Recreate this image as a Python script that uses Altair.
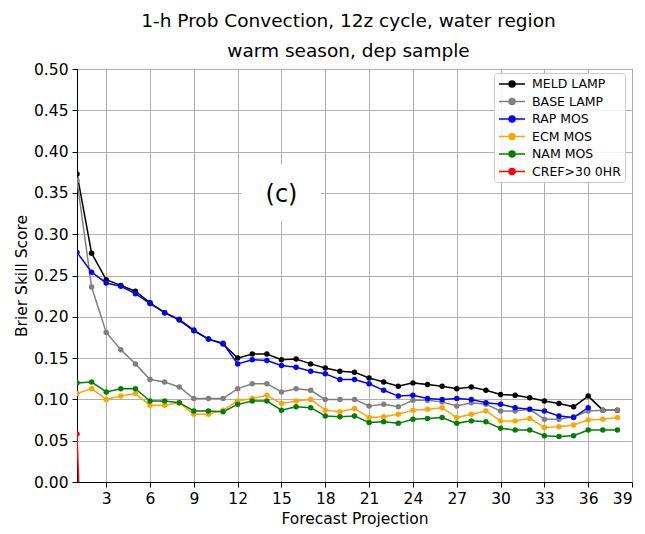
import altair as alt
import pandas as pd

hours = list(range(1, 39))
meld_lamp = [0.373, 0.277, 0.245, 0.238, 0.231, 0.217, 0.205, 0.196, 0.183, 0.173,
             0.167, 0.150, 0.155, 0.155, 0.148, 0.149, 0.143, 0.138, 0.134, 0.133,
             0.126, 0.121, 0.116, 0.120, 0.118, 0.116, 0.113, 0.115, 0.111, 0.106,
             0.105, 0.102, 0.098, 0.095, 0.091, 0.104, 0.087, 0.087]
base_lamp = [0.365, 0.236, 0.181, 0.160, 0.143, 0.124, 0.121, 0.115, 0.101, 0.101,
             0.101, 0.113, 0.119, 0.119, 0.109, 0.113, 0.111, 0.100, 0.100, 0.100,
             0.092, 0.094, 0.091, 0.099, 0.099, 0.097, 0.092, 0.096, 0.094, 0.086,
             0.086, 0.088, 0.076, 0.076, 0.079, 0.086, 0.087, 0.087]
rap_mos = [0.278, 0.254, 0.241, 0.237, 0.228, 0.216, 0.205, 0.197, 0.184, 0.173,
           0.168, 0.143, 0.148, 0.147, 0.141, 0.139, 0.134, 0.131, 0.124, 0.124,
           0.119, 0.111, 0.104, 0.105, 0.101, 0.100, 0.101, 0.100, 0.096, 0.094,
           0.090, 0.088, 0.086, 0.080, 0.078, 0.090]
ecm_mos = [0.107, 0.113, 0.100, 0.104, 0.107, 0.093, 0.093, 0.096, 0.082, 0.082,
           0.087, 0.098, 0.101, 0.105, 0.095, 0.098, 0.100, 0.087, 0.085, 0.089,
           0.078, 0.079, 0.082, 0.087, 0.088, 0.090, 0.078, 0.082, 0.086, 0.074,
           0.074, 0.077, 0.066, 0.067, 0.069, 0.075, 0.076, 0.078]
nam_mos = [0.120, 0.121, 0.109, 0.113, 0.113, 0.098, 0.098, 0.096, 0.086, 0.086,
           0.085, 0.094, 0.098, 0.098, 0.087, 0.091, 0.090, 0.080, 0.079, 0.080,
           0.072, 0.073, 0.071, 0.076, 0.077, 0.078, 0.071, 0.074, 0.073, 0.065,
           0.063, 0.063, 0.056, 0.055, 0.056, 0.063, 0.063, 0.063]
cref_hours = [1, 2]
cref_0hr = [0.058, -0.45]

series_names = ["MELD LAMP", "BASE LAMP", "RAP MOS", "ECM MOS", "NAM MOS", "CREF>30 0HR"]
series_colors = ["#000000", "#808080", "#0000ff", "#ffa500", "#008000", "#ff0000"]

x_ticks = list(range(3, 40, 3))
y_ticks = [round(i * 0.05, 2) for i in range(11)]

rows = []
for name, xs, vals in [
    ("MELD LAMP", hours, meld_lamp),
    ("BASE LAMP", hours, base_lamp),
    ("RAP MOS", hours[:len(rap_mos)], rap_mos),
    ("ECM MOS", hours, ecm_mos),
    ("NAM MOS", hours, nam_mos),
    ("CREF>30 0HR", cref_hours, cref_0hr),
]:
    for h, v in zip(xs, vals):
        rows.append({"hour": h, "bss": v, "series": name, "order": series_names.index(name)})
df = pd.DataFrame(rows)

label_df = pd.DataFrame({"hour": [15], "bss": [0.35], "text": ["(c)"]})

# line with a dot, in symbol units (nominal size 12px -> 26px wide line, 3px dot)
legend_symbol = ("M-2.17,0L2.17,0M0.5,0A0.5,0.5,0,1,1,-0.5,0"
                 "A0.5,0.5,0,1,1,0.5,0")

def make_legend():
    return alt.Legend(
        title=None, orient="none", legendX=417, legendY=4,
        symbolType=legend_symbol, symbolSize=144, symbolOffset=7,
        symbolStrokeWidth=1.5, labelFontSize=12.5,
        labelOffset=13, rowPadding=3.5, padding=4,
        fillColor="rgba(255,255,255,0.85)", strokeColor="#cccccc",
        cornerRadius=3,
    )

x_enc = alt.X("hour:Q", title="Forecast Projection",
              scale=alt.Scale(domain=[1, 39], nice=False, zero=False),
              axis=alt.Axis(values=x_ticks, format="d"))
y_enc = alt.Y("bss:Q", title="Brier Skill Score",
              scale=alt.Scale(domain=[0, 0.5], nice=False),
              axis=alt.Axis(values=y_ticks, format=".2f"))

lines = alt.Chart(df).mark_line(strokeWidth=1.5, clip=True).encode(
    x=x_enc, y=y_enc,
    stroke=alt.Stroke("series:N", sort=series_names,
                      scale=alt.Scale(domain=series_names, range=series_colors),
                      legend=make_legend()),
    order="hour:Q",
    detail="series:N",
)

points = alt.Chart(df).mark_point(filled=True, size=30, clip=True, opacity=1).encode(
    x=x_enc, y=y_enc,
    fill=alt.Fill("series:N", sort=series_names,
                  scale=alt.Scale(domain=series_names, range=series_colors),
                  legend=make_legend()),
)

box = alt.Chart(label_df).mark_point(
    shape="M-1,-0.72L1,-0.72L1,0.72L-1,0.72Z", size=6241,
    filled=True, fill="white", opacity=1, strokeWidth=0,
).encode(x="hour:Q", y="bss:Q")

text = alt.Chart(label_df).mark_text(
    fontSize=24, font="DejaVu Sans", baseline="middle", align="center", dy=2, color="black",
).encode(x="hour:Q", y="bss:Q", text="text:N")

chart = alt.layer(box, text, lines, points).properties(
    width=555, height=413,
    title=alt.TitleParams(
        text=["1-h Prob Convection, 12z cycle, water region", "warm season, dep sample"],
        fontSize=18.5, font="DejaVu Sans", fontWeight="normal", lineHeight=30,
        anchor="middle", offset=2, dx=-6, color="black",
    ),
    padding={"left": 77, "top": 69, "right": 13, "bottom": 52},
    autosize=alt.AutoSizeParams(type="none"),
).configure_view(
    stroke="black", strokeWidth=1,
).configure_axis(
    labelFont="DejaVu Sans", titleFont="DejaVu Sans",
    labelFontSize=15.5, titleFontSize=15.5, titleFontWeight="normal",
    labelColor="black", titleColor="black", tickColor="black", domainColor="black",
    gridColor="#b0b0b0", gridWidth=1, tickSize=5, labelPadding=4,
).configure_axisY(
    titlePadding=4,
).configure_axisX(
    titlePadding=5,
).configure_legend(
    labelFont="DejaVu Sans", labelColor="black",
)

chart.save("out.html", embed_options={"renderer": "svg", "actions": False})
